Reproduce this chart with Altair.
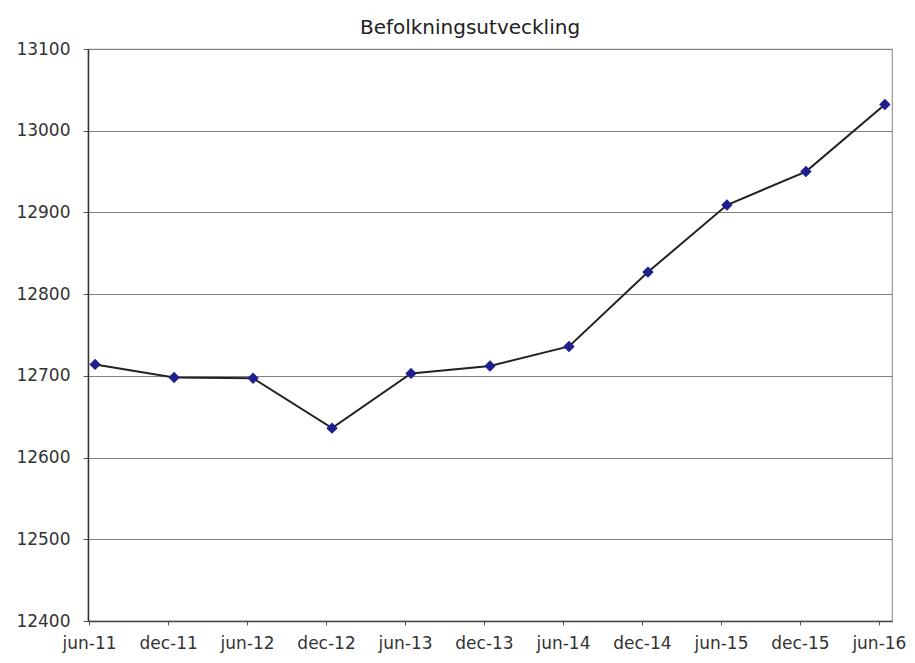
import altair as alt
import pandas as pd

categories = ["jun-11", "dec-11", "jun-12", "dec-12", "jun-13", "dec-13",
              "jun-14", "dec-14", "jun-15", "dec-15", "jun-16"]
values = [12714, 12698, 12697, 12636, 12703, 12712, 12736, 12827, 12909, 12950, 13032]
y_ticks = [12400, 12500, 12600, 12700, 12800, 12900, 13000, 13100]

df = pd.DataFrame({"period": categories, "pop": values})

FONT = "DejaVu Sans"

x = alt.X("period:N", sort=categories, title=None,
          scale=alt.Scale(type="point", padding=0.09),
          axis=alt.Axis(labelAngle=0, labelFontSize=17, labelColor="#333333",
                        labelFont=FONT, labelPadding=10, tickSize=4, tickColor="#555555",
                        tickOffset=-6, domainColor="#444444", domainWidth=1.5,
                        grid=False))
y = alt.Y("pop:Q", title=None,
          scale=alt.Scale(domain=[12400, 13100], nice=False, zero=False),
          axis=alt.Axis(values=y_ticks, format="d", labelFontSize=17, labelColor="#333333",
                        labelFont=FONT, labelPadding=13, tickSize=5, tickColor="#555555",
                        domainColor="#333333", domainWidth=1.5,
                        grid=True, gridColor="#808080", gridWidth=1.2))

line = alt.Chart(df).mark_line(color="#222222", strokeWidth=2).encode(x=x, y=y)
pts = alt.Chart(df).mark_point(shape="diamond", filled=True, size=130,
                                color="#1f1f8f", opacity=1).encode(x=x, y=y)

chart = (line + pts).properties(
    width=804, height=572,
    autosize=alt.AutoSizeParams(type="none"),
    padding={"left": 80, "top": 41, "right": 15, "bottom": 34},
    title=alt.TitleParams("Befolkningsutveckling", fontSize=20, font=FONT,
                          fontWeight="normal", color="#222222", anchor="middle",
                          dx=-20, offset=2),
).configure_view(stroke="#999999", strokeWidth=1.2)

chart.save("out.html", embed_options={"renderer": "svg", "actions": False})
